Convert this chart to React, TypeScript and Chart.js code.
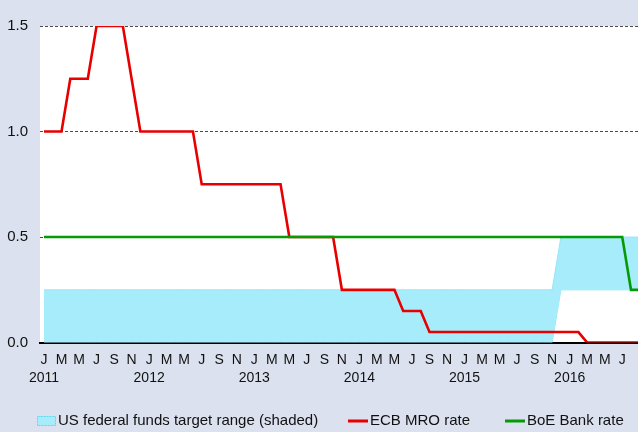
import React, { useEffect, useRef } from 'react';
import { Chart, registerables } from 'chart.js';

Chart.register(...registerables);

// ---- Data (monthly, Jan 2011 .. Sep 2016) ----
const monthLetters = ['J', 'F', 'M', 'A', 'M', 'J', 'J', 'A', 'S', 'O', 'N', 'D'];
const years = ['2011', '2012', '2013', '2014', '2015', '2016'];
const yTicks = [0, 0.5, 1.0, 1.5];

const ecbRate = [
  1.0, 1.0, 1.0, 1.25, 1.25, 1.25, 1.5, 1.5, 1.5, 1.5, 1.25, 1.0, // 2011
  1.0, 1.0, 1.0, 1.0, 1.0, 1.0, 0.75, 0.75, 0.75, 0.75, 0.75, 0.75, // 2012
  0.75, 0.75, 0.75, 0.75, 0.5, 0.5, 0.5, 0.5, 0.5, 0.5, 0.25, 0.25, // 2013
  0.25, 0.25, 0.25, 0.25, 0.25, 0.15, 0.15, 0.15, 0.05, 0.05, 0.05, 0.05, // 2014
  0.05, 0.05, 0.05, 0.05, 0.05, 0.05, 0.05, 0.05, 0.05, 0.05, 0.05, 0.05, // 2015
  0.05, 0.05, 0.0, 0.0, 0.0, 0.0, 0.0, 0.0, 0.0, // 2016
];

const boeRate = [
  0.5, 0.5, 0.5, 0.5, 0.5, 0.5, 0.5, 0.5, 0.5, 0.5, 0.5, 0.5,
  0.5, 0.5, 0.5, 0.5, 0.5, 0.5, 0.5, 0.5, 0.5, 0.5, 0.5, 0.5,
  0.5, 0.5, 0.5, 0.5, 0.5, 0.5, 0.5, 0.5, 0.5, 0.5, 0.5, 0.5,
  0.5, 0.5, 0.5, 0.5, 0.5, 0.5, 0.5, 0.5, 0.5, 0.5, 0.5, 0.5,
  0.5, 0.5, 0.5, 0.5, 0.5, 0.5, 0.5, 0.5, 0.5, 0.5, 0.5, 0.5,
  0.5, 0.5, 0.5, 0.5, 0.5, 0.5, 0.5, 0.25, 0.25,
];

const usLower = [
  0, 0, 0, 0, 0, 0, 0, 0, 0, 0, 0, 0,
  0, 0, 0, 0, 0, 0, 0, 0, 0, 0, 0, 0,
  0, 0, 0, 0, 0, 0, 0, 0, 0, 0, 0, 0,
  0, 0, 0, 0, 0, 0, 0, 0, 0, 0, 0, 0,
  0, 0, 0, 0, 0, 0, 0, 0, 0, 0, 0, 0.25,
  0.25, 0.25, 0.25, 0.25, 0.25, 0.25, 0.25, 0.25, 0.25,
];

const usUpper = [
  0.25, 0.25, 0.25, 0.25, 0.25, 0.25, 0.25, 0.25, 0.25, 0.25, 0.25, 0.25,
  0.25, 0.25, 0.25, 0.25, 0.25, 0.25, 0.25, 0.25, 0.25, 0.25, 0.25, 0.25,
  0.25, 0.25, 0.25, 0.25, 0.25, 0.25, 0.25, 0.25, 0.25, 0.25, 0.25, 0.25,
  0.25, 0.25, 0.25, 0.25, 0.25, 0.25, 0.25, 0.25, 0.25, 0.25, 0.25, 0.25,
  0.25, 0.25, 0.25, 0.25, 0.25, 0.25, 0.25, 0.25, 0.25, 0.25, 0.25, 0.5,
  0.5, 0.5, 0.5, 0.5, 0.5, 0.5, 0.5, 0.5, 0.5,
];

const labelUS = 'US federal funds target range (shaded)';
const labelECB = 'ECB MRO rate';
const labelBoE = 'BoE Bank rate';

// ---- Style ----
const FONT = "'Liberation Sans', Arial, sans-serif";
const BG = '#dbe1ee';
const CYAN = '#a6ecfa';
const RED = '#e80000';
const GREEN = '#079a07';
const TEXT = '#111111';

const toPoints = (arr: number[]) => arr.map((v, i) => ({ x: i, y: v }));

const backgroundPlugin = {
  id: 'bgPlugin',
  beforeDraw(chart: any) {
    const { ctx, chartArea } = chart;
    ctx.save();
    ctx.fillStyle = BG;
    ctx.fillRect(0, 0, chart.width, chart.height);
    ctx.fillStyle = '#ffffff';
    ctx.fillRect(chartArea.left, chartArea.top, chartArea.right - chartArea.left, chartArea.bottom - chartArea.top);
    ctx.restore();
  },
};

// custom legend positions (style)
const legendLayout = [
  { x: 37, kind: 'box' },
  { x: 348, kind: 'line' },
  { x: 505, kind: 'line' },
];
const LEGEND_Y = 421;

const legendPlugin = {
  id: 'customLegend',
  afterDraw(chart: any) {
    const { ctx } = chart;
    const items = chart.data.datasets.filter((d: any) => d.legendIndex !== undefined)
      .sort((a: any, b: any) => a.legendIndex - b.legendIndex);
    ctx.save();
    ctx.font = `15px ${FONT}`;
    ctx.textBaseline = 'middle';
    ctx.textAlign = 'left';
    items.forEach((ds: any, i: number) => {
      const pos = legendLayout[i];
      if (pos.kind === 'box') {
        ctx.fillStyle = CYAN;
        ctx.fillRect(pos.x, LEGEND_Y - 5, 19, 10);
        ctx.strokeStyle = '#68d5f0';
        ctx.lineWidth = 1;
        ctx.setLineDash([2, 1]);
        ctx.strokeRect(pos.x + 0.5, LEGEND_Y - 4.5, 18, 9);
        ctx.setLineDash([]);
      } else {
        ctx.strokeStyle = ds.borderColor;
        ctx.lineWidth = 3;
        ctx.beginPath();
        ctx.moveTo(pos.x, LEGEND_Y);
        ctx.lineTo(pos.x + 20, LEGEND_Y);
        ctx.stroke();
      }
      ctx.fillStyle = TEXT;
      ctx.fillText(ds.label, pos.x + (pos.kind === 'box' ? 21 : 22), LEGEND_Y);
    });
    ctx.restore();
  },
};

export default function App() {
  const canvasRef = useRef<HTMLCanvasElement | null>(null);

  useEffect(() => {
    const canvas = canvasRef.current;
    if (!canvas) return;
    const chart = new Chart(canvas, {
      type: 'line',
      data: {
        datasets: [
          {
            label: labelECB,
            data: toPoints(ecbRate),
            borderColor: RED,
            backgroundColor: RED,
            borderWidth: 2.6,
            pointRadius: 0,
            tension: 0,
            fill: false,
            borderJoinStyle: 'miter',
            order: 1,
            legendIndex: 1,
          } as any,
          {
            label: labelBoE,
            data: toPoints(boeRate),
            borderColor: GREEN,
            backgroundColor: GREEN,
            borderWidth: 2.6,
            pointRadius: 0,
            tension: 0,
            fill: false,
            borderJoinStyle: 'miter',
            order: 0,
            legendIndex: 2,
          } as any,
          {
            label: labelUS,
            data: toPoints(usUpper),
            borderColor: '#95e6f7',
            backgroundColor: CYAN,
            borderWidth: 1,
            pointRadius: 0,
            tension: 0,
            fill: '+1',
            order: 5,
            legendIndex: 0,
          } as any,
          {
            label: 'US lower',
            data: toPoints(usLower),
            borderColor: '#95e6f7',
            backgroundColor: CYAN,
            borderWidth: 1,
            pointRadius: 0,
            tension: 0,
            fill: false,
            order: 6,
          } as any,
        ],
      },
      options: {
        animation: false,
        responsive: false,
        maintainAspectRatio: false,
        layout: { padding: { top: 26, right: 0, left: 0, bottom: 37 } },
        plugins: {
          legend: { display: false },
          tooltip: { enabled: false },
        },
        scales: {
          x: {
            type: 'linear',
            min: -0.457,
            max: 67.8,
            grid: { display: false, drawTicks: false },
            border: { display: true, color: '#000000', width: 2 },
            ticks: {
              stepSize: 2,
              includeBounds: false,
              autoSkip: false,
              maxRotation: 0,
              minRotation: 0,
              padding: 8,
              color: TEXT,
              font: { family: FONT, size: 14, lineHeight: 1.3 },
              callback: (value: any) => {
                const i = Math.round(Number(value));
                if (i < 0 || i % 2 !== 0) return '';
                const m = i % 12;
                const letter = monthLetters[m];
                if (m === 0) return [letter, years[Math.floor(i / 12)]];
                return letter;
              },
            },
            afterFit: (scale: any) => {
              scale.paddingLeft = 0;
              scale.paddingRight = 0;
            },
          },
          y: {
            type: 'linear',
            min: 0,
            max: 1.5,
            afterBuildTicks: (scale: any) => {
              scale.ticks = yTicks.map((v) => ({ value: v }));
            },
            grid: {
              display: true,
              drawTicks: false,
              color: (c: any) => (c.tick && c.tick.value === 0 ? 'rgba(0,0,0,0)' : '#4a4a4a'),
              lineWidth: 1,
            },
            border: { display: false, dash: [3, 2] },
            ticks: {
              padding: 12,
              color: TEXT,
              font: { family: FONT, size: 15 },
              callback: (value: any) => Number(value).toFixed(1),
            },
            afterFit: (scale: any) => {
              scale.width = 40;
            },
          },
        },
      },
      plugins: [backgroundPlugin, legendPlugin],
    });
    return () => chart.destroy();
  }, []);

  return (
    <div style={{ position: 'fixed', left: 0, top: 0, width: 638, height: 432, background: BG, overflow: 'hidden' }}>
      <canvas ref={canvasRef} width={638} height={432} style={{ display: 'block' }} />
    </div>
  );
}
